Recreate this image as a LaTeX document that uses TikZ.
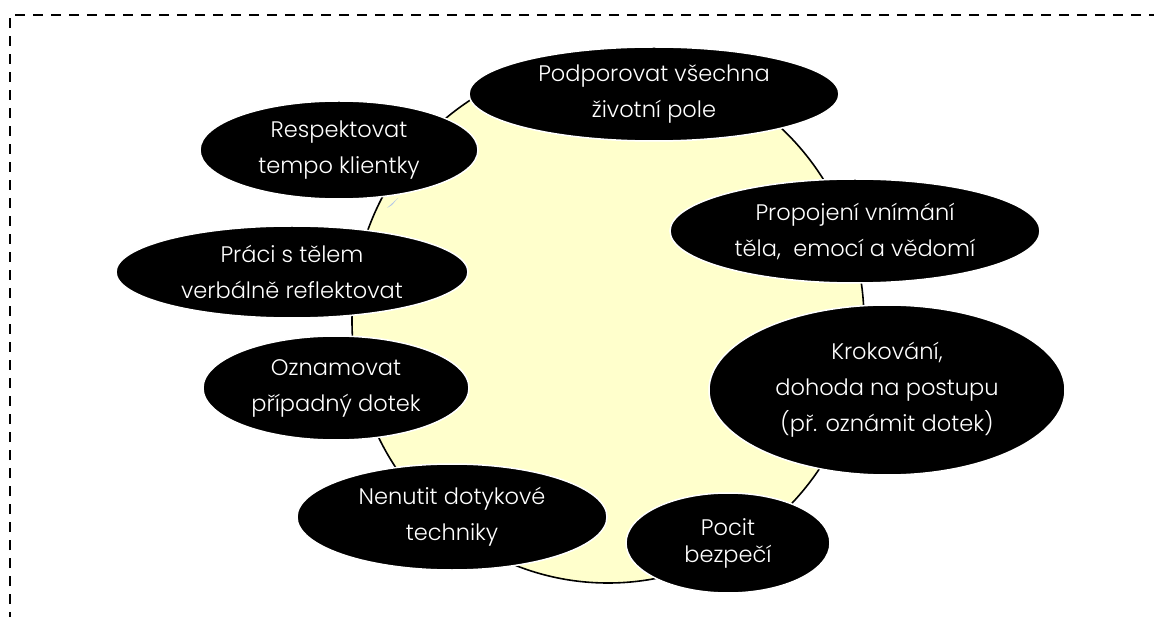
\documentclass[tikz,border=0pt]{standalone}
\usepackage{fontspec}
\setmainfont{Poppins}[UprightFont={* Light}]
\usetikzlibrary{shapes.geometric}
\definecolor{pale}{HTML}{FFFFCC}
\definecolor{tipblue}{HTML}{B4C7E7}
\tikzset{
  x=1pt, y=-1pt, % one unit is one pixel of the sketch, y runs downwards
  bubble/.style={ellipse, fill=black, draw=white, line width=1.5pt, text=white,
    align=center, inner sep=0pt, font=\fontsize{22.5}{36}\selectfont}, % black ellipse, white text
  frame/.style={dash pattern=on 10pt off 8pt, line width=2.4pt}, % the dashed border
}

\begin{document}
\begin{tikzpicture}
  \useasboundingbox (0,0) rectangle (1154,617);

  % border, running off the page on the right and at the bottom
  \draw[frame] (10,640) |- (1180,15);

  % big circle in the middle
  \draw[fill=pale, line width=1.6pt] (608,321) ellipse [x radius=256, y radius=262];
  \fill[tipblue] (387,208) -- (398,198) -- (392,205) -- cycle;

  \node[bubble, minimum width=370, minimum height=94] (1) at (654,94)
    {Podporovat všechna\\životní pole};
  \node[bubble, minimum width=278, minimum height=98] (2) at (339,150)
    {Respektovat\\tempo klientky};
  \node[bubble, minimum width=370, minimum height=104] (3) at (855,231)
    {Propojení vnímání\\těla,\ \ emocí a vědomí};
  \node[bubble, minimum width=352, minimum height=92] (4) at (292,272)
    {Práci s tělem\\verbálně reflektovat};
  \node[bubble, minimum width=356, minimum height=170] (5) at (887,390)
    {Krokování,\\dohoda na postupu\\(př. oznámit dotek)};
  \node[bubble, minimum width=266, minimum height=104] (6) at (336,388)
    {Oznamovat\\případný dotek};
  \node[bubble, minimum width=310, minimum height=106] (7) at (452,517)
    {Nenutit dotykové\\techniky};
  \node[bubble, minimum width=204, minimum height=100,
    font=\fontsize{22.5}{27}\selectfont] (8) at (728,543)
    {Pocit\\bezpečí};

\end{tikzpicture}
\end{document}
